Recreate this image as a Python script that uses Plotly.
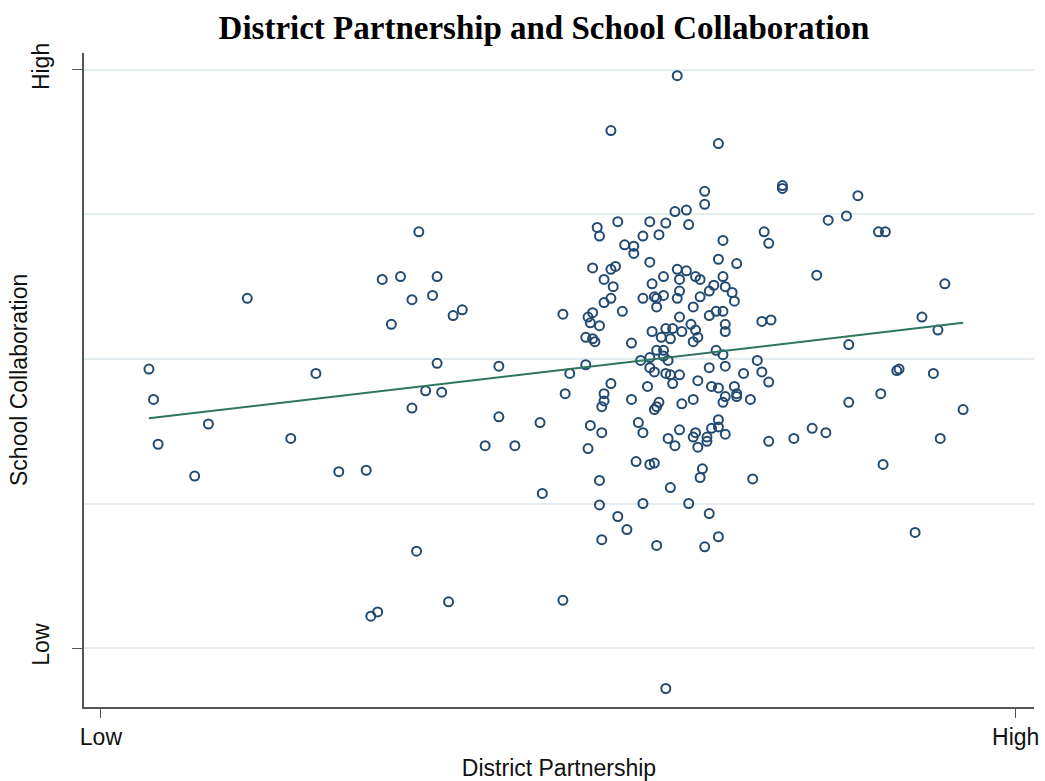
import plotly.graph_objects as go

# District Partnership (x) and School Collaboration (y), scale Low=1 .. High=5
district_partnership = [
    1.21, 1.23, 1.25, 1.41, 1.47, 1.64, 1.83, 1.94, 2.04, 2.16, 2.18, 2.21, 2.23, 2.27, 2.31,
    2.36, 2.36, 2.38, 2.39, 2.42, 2.45, 2.47, 2.47, 2.49, 2.52, 2.54, 2.58,
    2.68, 2.74, 2.74, 2.81, 2.92, 2.93, 3.02, 3.02, 3.03, 3.05, 3.12, 3.12, 3.13, 3.13,
    3.14, 3.14, 3.15, 3.15, 3.15, 3.16, 3.17, 3.18, 3.18, 3.18, 3.18, 3.19, 3.19, 3.19,
    3.20, 3.20, 3.20, 3.20, 3.23, 3.23, 3.23, 3.23, 3.24, 3.25, 3.26, 3.26, 3.28, 3.29,
    3.30, 3.32, 3.32, 3.33, 3.33, 3.34, 3.35, 3.36,
    3.37, 3.37, 3.37, 3.37, 3.39, 3.40, 3.40, 3.40, 3.40, 3.40, 3.41, 3.41, 3.42, 3.42,
    3.42, 3.42, 3.43, 3.43, 3.43, 3.43, 3.44, 3.44, 3.43, 3.45, 3.46, 3.46, 3.46, 3.46,
    3.47, 3.47, 3.47, 3.47, 3.48, 3.48, 3.49, 3.49, 3.49, 3.50, 3.50, 3.51, 3.51, 3.52,
    3.52, 3.52, 3.53, 3.53, 3.53, 3.53, 3.53, 3.54, 3.54, 3.56, 3.56, 3.57, 3.57, 3.58,
    3.59, 3.59, 3.59, 3.59, 3.60, 3.60, 3.60, 3.61, 3.61, 3.61, 3.62, 3.62, 3.62, 3.63,
    3.64, 3.64, 3.64, 3.65, 3.65, 3.66, 3.66, 3.66, 3.66, 3.67, 3.68, 3.69, 3.69, 3.70,
    3.70, 3.70, 3.70, 3.70, 3.70, 3.67, 3.72, 3.72, 3.72, 3.72, 3.72, 3.73, 3.73, 3.73,
    3.73, 3.73, 3.73, 3.76, 3.77, 3.77, 3.78, 3.78, 3.78, 3.81, 3.84, 3.85, 3.87, 3.89,
    3.89, 3.90, 3.92, 3.92, 3.92, 3.93, 3.98, 3.98, 4.03,
    4.11, 4.13, 4.17, 4.18, 4.26, 4.27, 4.27, 4.31, 4.40, 4.41, 4.42, 4.43, 4.48, 4.49,
    4.56, 4.59, 4.64, 4.66, 4.67, 4.69, 4.77,
]
school_collaboration = [
    2.93, 2.72, 2.41, 2.19, 2.55, 3.42, 2.45, 2.90, 2.22, 2.23, 1.22, 1.25, 3.55, 3.24, 3.57,
    3.41, 2.66, 1.67, 3.88, 2.78, 3.44, 3.57, 2.97, 2.77, 1.32, 3.30, 3.34,
    2.40, 2.95, 2.60, 2.40, 2.56, 2.07, 3.31, 1.33, 2.76, 2.90, 2.96, 3.15, 3.29, 2.38,
    2.54, 3.25, 3.63, 3.32, 3.14, 3.12, 3.91, 3.23, 1.99, 3.85, 2.16, 1.75, 2.67, 2.49,
    3.55, 2.76, 2.71, 3.39, 3.62, 4.58, 3.42, 2.83, 3.50, 3.64, 3.95, 1.91, 3.33, 3.79,
    1.82, 3.11, 2.72, 3.78, 3.73, 2.29, 2.56, 2.99,
    3.85, 3.42, 2.49, 2.00, 2.81, 3.01, 3.67, 2.94, 3.95, 2.27, 3.52, 3.19, 3.43, 2.91,
    2.65, 2.28, 3.42, 3.36, 3.06, 1.71, 3.86, 2.70, 2.67, 3.15, 3.57, 3.02, 3.44, 3.06,
    3.21, 3.94, 0.72, 2.90, 2.99, 2.45, 2.89, 3.14, 2.11, 3.21, 2.83, 4.02, 2.40, 4.96,
    3.62, 3.42, 3.55, 2.89, 3.47, 3.29, 2.51, 3.19, 2.69, 4.03, 3.61, 3.93, 2.00, 3.24,
    3.12, 3.36, 2.72, 2.46, 3.20, 3.57, 2.49, 2.85, 3.15, 2.39, 3.55, 3.43, 2.18, 2.24,
    4.16, 4.07, 1.70, 2.43, 2.46, 3.30, 2.94, 3.47, 1.93, 2.81, 3.51, 3.33, 3.06, 4.49,
    2.80, 1.77, 3.69, 2.58, 2.53, 2.52, 3.82, 3.57, 3.33, 3.03, 2.70, 3.50, 3.24, 3.19,
    2.48, 2.95, 2.74, 3.46, 3.40, 2.81, 2.74, 2.76, 3.66, 2.90, 2.72, 2.17, 2.99, 2.91,
    3.26, 3.88, 3.80, 2.43, 2.84, 3.27, 4.18, 4.20, 2.45,
    2.52, 3.58, 2.49, 3.96, 3.99, 3.10, 2.70, 4.13, 3.88, 2.76, 2.27, 3.88, 2.92, 2.93,
    1.80, 3.29, 2.90, 3.20, 2.45, 3.52, 2.65,
]

# Linear fit line (endpoints)
fit_x = [1.21, 4.77]
fit_y = [2.59, 3.25]

tick_vals = [1, 5]
tick_text = ["Low", "High"]
minor_grid_vals = [2, 3, 4]

fig = go.Figure()
fig.add_trace(go.Scatter(
    x=district_partnership, y=school_collaboration, mode="markers",
    marker=dict(symbol="circle-open", size=9, color="#234a70", line=dict(width=2, color="#234a70")),
    showlegend=False, hoverinfo="skip",
))
fig.add_trace(go.Scatter(
    x=fit_x, y=fit_y, mode="lines",
    line=dict(color="#2f7560", width=2),
    showlegend=False, hoverinfo="skip",
))

axis_font = dict(family="Liberation Sans, Arial, sans-serif", size=23, color="#111111")

fig.update_layout(
    width=1045, height=781,
    margin=dict(l=84, r=11, t=53, b=74),
    paper_bgcolor="white", plot_bgcolor="white",
    title=dict(
        text="<b>District Partnership and School Collaboration</b>",
        font=dict(family="Liberation Serif, Times New Roman, serif", size=33, color="#000000"),
        x=544 / 1045, xanchor="center", xref="container",
        y=1 - 27 / 781, yanchor="middle", yref="container",
    ),
    xaxis=dict(
        range=[0.926, 5.08], tickvals=tick_vals, ticktext=tick_text,
        showgrid=False, zeroline=False, automargin=False,
        showline=True, linecolor="#555555", linewidth=1.5,
        ticks="outside", ticklen=9, tickcolor="#555555", tickwidth=1.2,
        tickfont=axis_font,
        title=dict(text="District Partnership", font=axis_font, standoff=11),
    ),
    yaxis=dict(
        range=[0.592, 5.117], tickvals=tick_vals, ticktext=tick_text,
        tickangle=-90, automargin=False,
        showgrid=True, gridcolor="#e3ecee", gridwidth=1.5, zeroline=False,
        showline=True, linecolor="#555555", linewidth=1.5,
        ticks="outside", ticklen=10, tickcolor="#555555", tickwidth=1.2,
        tickfont=axis_font, ticklabelstandoff=14,
        minor=dict(tickvals=minor_grid_vals, showgrid=True, gridcolor="#e3ecee", gridwidth=1.5, ticks=""),
    ),
    annotations=[dict(
        text="School Collaboration", font=axis_font, textangle=-90,
        xref="paper", yref="paper", x=-(84 - 19) / 950, y=0.5,
        xanchor="center", yanchor="middle", showarrow=False,
    )],
)

fig.write_html("out.html", config={"displayModeBar": False},
               post_script="document.body.style.margin='0';")
